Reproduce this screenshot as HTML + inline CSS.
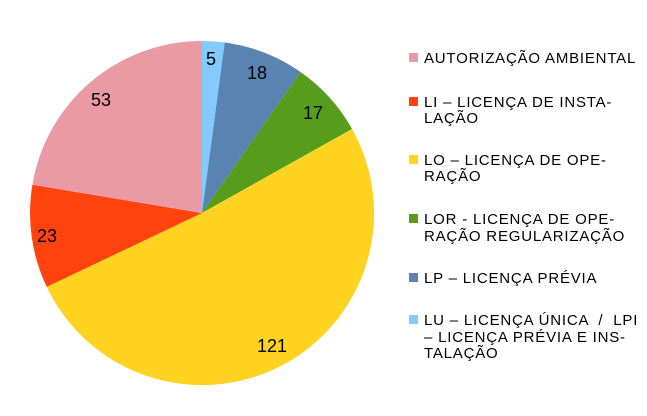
<!DOCTYPE html>
<html><head><style>
body{margin:0;background:#fff;width:647px;height:411px;overflow:hidden;font-family:"Liberation Sans",sans-serif}
</style></head><body>
<svg width="647" height="411" xmlns="http://www.w3.org/2000/svg" font-family="Liberation Sans, sans-serif">
<rect width="647" height="411" fill="#fff"/>
<g stroke="none">
<path d="M202,213 L202,41 A172,172 0 0 1 224.7,42.5 Z" fill="#83caff"/>
<path d="M202,213 L224.7,42.5 A172,172 0 0 1 300.5,72 Z" fill="#5983b0"/>
<path d="M202,213 L300.5,72 A172,172 0 0 1 352.1,129 Z" fill="#579d1c"/>
<path d="M202,213 L352.1,129 A172,172 0 1 1 46.7,286.9 Z" fill="#ffd320"/>
<path d="M202,213 L46.7,286.9 A172,172 0 0 1 32.4,184.7 Z" fill="#ff420e"/>
<path d="M202,213 L32.4,184.7 A172,172 0 0 1 202,41 Z" fill="#ea9aa3"/>
</g>
<g font-size="18" fill="#000" text-anchor="middle">
<text x="211" y="65">5</text>
<text x="257" y="79">18</text>
<text x="313" y="119">17</text>
<text x="272" y="352">121</text>
<text x="47" y="242">23</text>
<text x="101" y="106">53</text>
</g>
<g font-size="15" fill="#000" letter-spacing="0.8">
<rect x="409" y="53" width="9" height="9" fill="#ea9aa3"/>
<text x="424" y="63">AUTORIZAÇÃO AMBIENTAL</text>
<rect x="409" y="97" width="9" height="9" fill="#ff420e"/>
<text x="424" y="107">LI – LICENÇA DE INSTA-</text>
<text x="424" y="123">LAÇÃO</text>
<rect x="409" y="155" width="9" height="9" fill="#ffd320"/>
<text x="424" y="165">LO – LICENÇA DE OPE-</text>
<text x="424" y="181">RAÇÃO</text>
<rect x="409" y="214" width="9" height="9" fill="#579d1c"/>
<text x="424" y="224">LOR - LICENÇA DE OPE-</text>
<text x="424" y="241">RAÇÃO REGULARIZAÇÃO</text>
<rect x="409" y="273" width="9" height="9" fill="#5983b0"/>
<text x="424" y="283">LP – LICENÇA PRÉVIA</text>
<rect x="409" y="315" width="9" height="9" fill="#83caff"/>
<text x="424" y="325" xml:space="preserve">LU – LICENÇA ÚNICA  /  LPI</text>
<text x="424" y="342">– LICENÇA PRÉVIA E INS-</text>
<text x="424" y="358">TALAÇÃO</text>
</g>
</svg>
</body></html>
